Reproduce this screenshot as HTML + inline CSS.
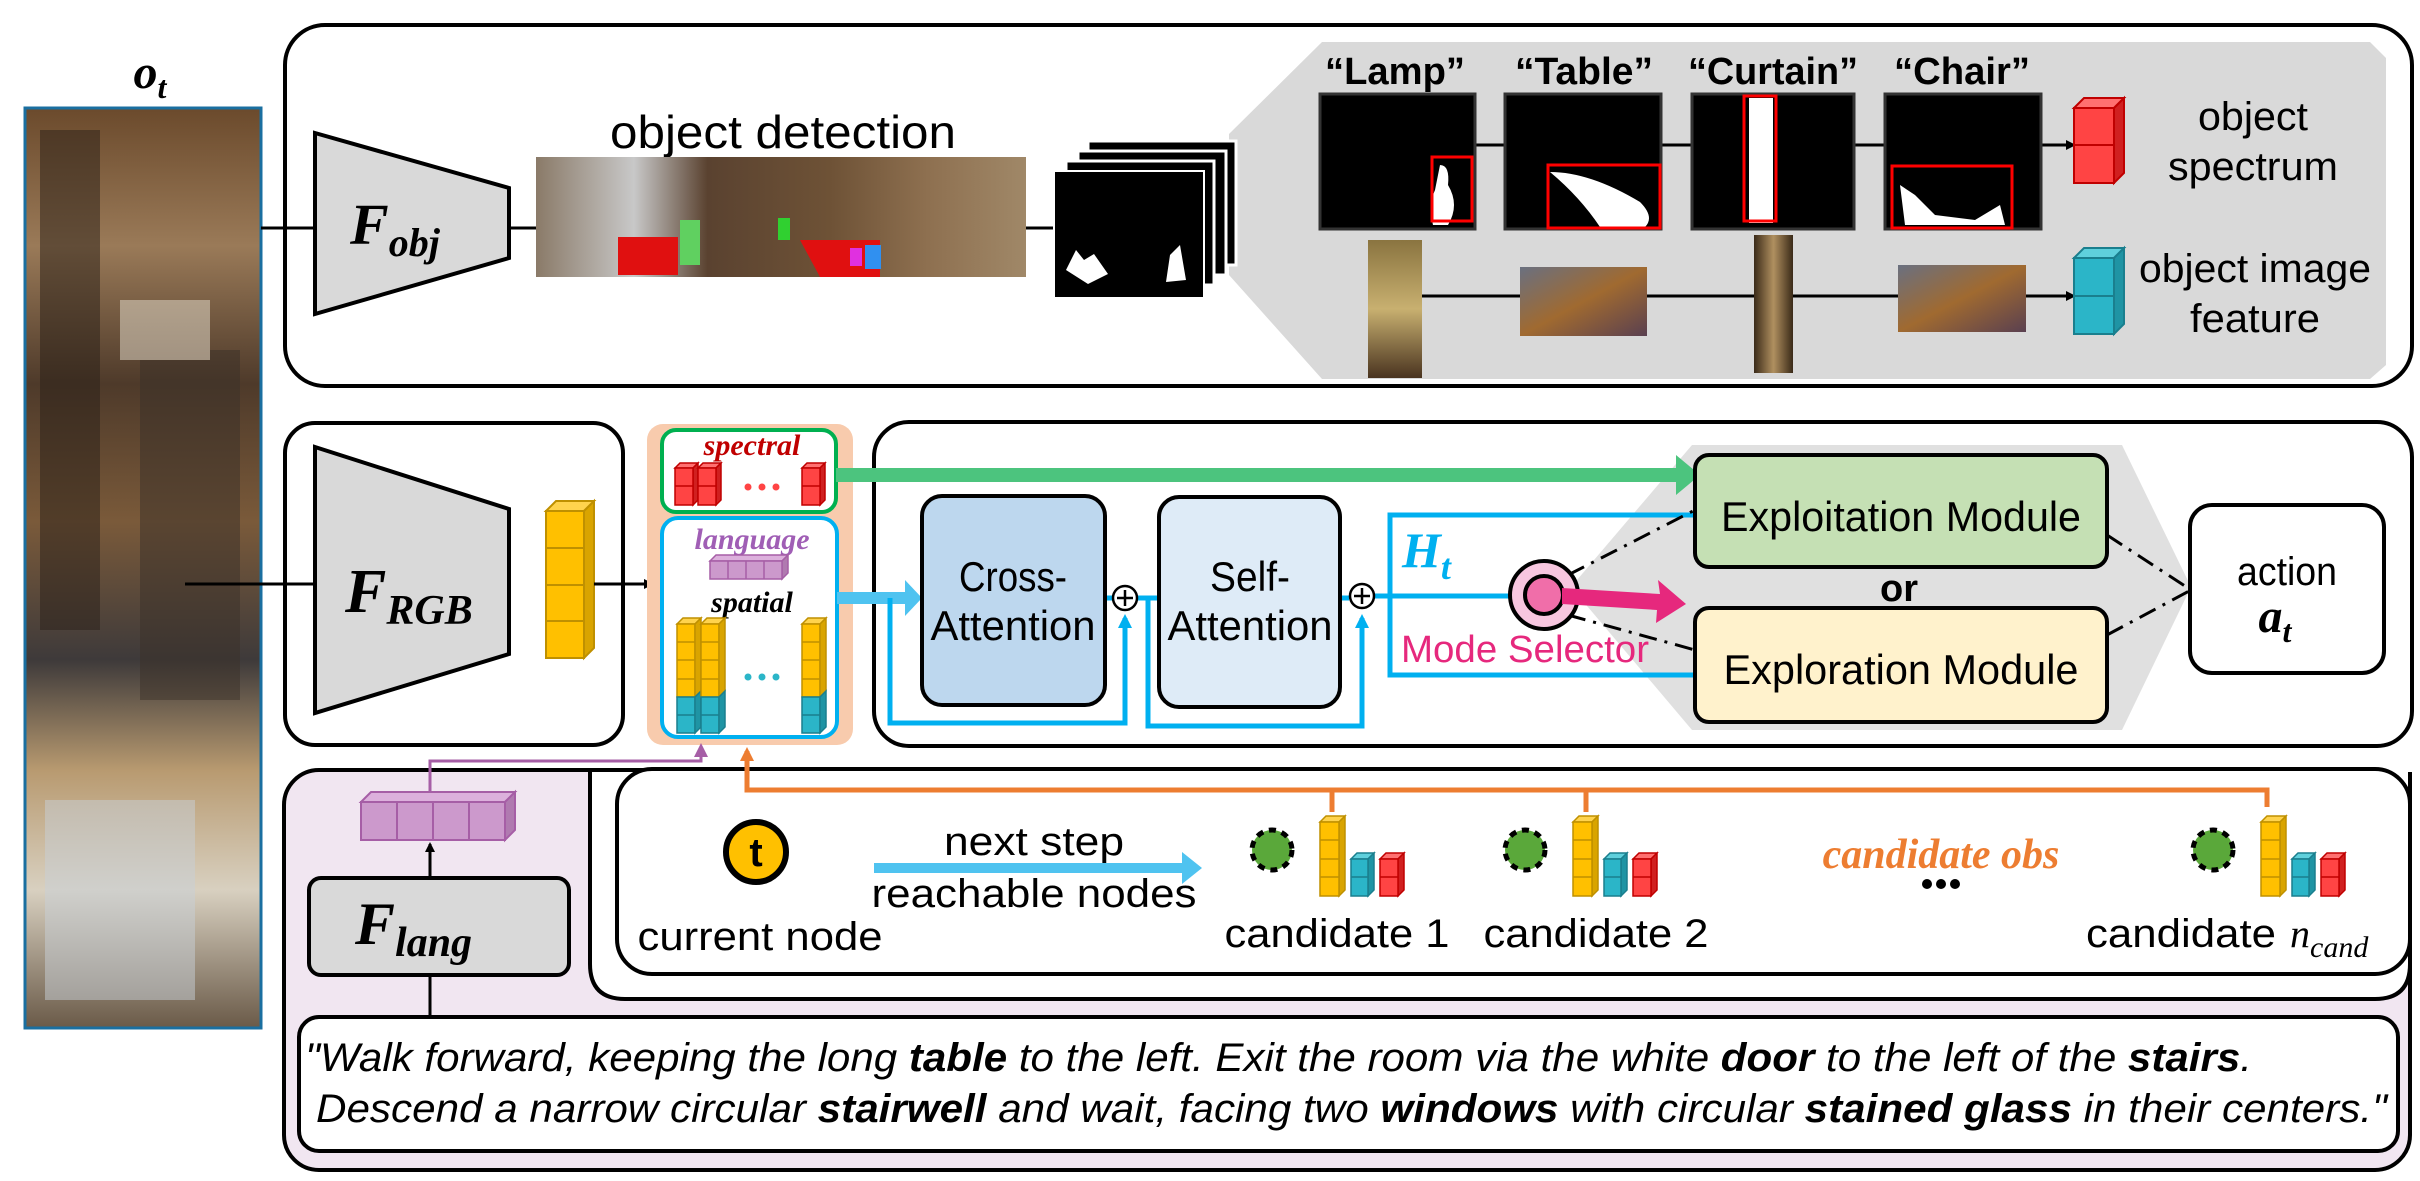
<!DOCTYPE html>
<html><head><meta charset="utf-8"><style>
html,body{margin:0;padding:0;background:#fff;}
svg{display:block;}
text{font-family:"Liberation Sans",sans-serif;}
.serif{font-family:"Liberation Serif",serif;}
</style></head><body>
<svg width="2420" height="1181" viewBox="0 0 2420 1181" xmlns="http://www.w3.org/2000/svg">
<defs>
<linearGradient id="pano" x1="0" y1="0" x2="0" y2="1">
<stop offset="0" stop-color="#6b4a2c"/><stop offset="0.15" stop-color="#9a7a58"/><stop offset="0.3" stop-color="#4e3a2a"/>
<stop offset="0.45" stop-color="#7a5a3a"/><stop offset="0.6" stop-color="#3e3a3a"/><stop offset="0.72" stop-color="#b89a70"/>
<stop offset="0.85" stop-color="#d8d0c0"/><stop offset="1" stop-color="#6a5a48"/></linearGradient>
<linearGradient id="det" x1="0" y1="0" x2="1" y2="0">
<stop offset="0" stop-color="#8a7a68"/><stop offset="0.2" stop-color="#c8c8c8"/><stop offset="0.35" stop-color="#5a4230"/>
<stop offset="0.6" stop-color="#6e5236"/><stop offset="0.8" stop-color="#8e7050"/><stop offset="1" stop-color="#a08868"/></linearGradient>
<linearGradient id="lamp" x1="0" y1="0" x2="0" y2="1"><stop offset="0" stop-color="#8a7440"/><stop offset="0.5" stop-color="#c8b070"/><stop offset="1" stop-color="#4a3420"/></linearGradient>
<linearGradient id="tbl" x1="0" y1="0" x2="1" y2="1"><stop offset="0" stop-color="#6a7080"/><stop offset="0.5" stop-color="#a06a30"/><stop offset="1" stop-color="#5a4050"/></linearGradient>
<linearGradient id="curt" x1="0" y1="0" x2="1" y2="0"><stop offset="0" stop-color="#3a2a18"/><stop offset="0.5" stop-color="#b09060"/><stop offset="1" stop-color="#3a2a18"/></linearGradient>
<marker id="ab" markerWidth="10" markerHeight="10" refX="8" refY="5" orient="auto" markerUnits="userSpaceOnUse"><path d="M0,0 L10,5 L0,10 z" fill="#000"/></marker>
<marker id="ac" markerWidth="14" markerHeight="14" refX="10" refY="7" orient="auto" markerUnits="userSpaceOnUse"><path d="M0,0 L14,7 L0,14 z" fill="#00b0f0"/></marker>
<marker id="ap" markerWidth="14" markerHeight="14" refX="10" refY="7" orient="auto" markerUnits="userSpaceOnUse"><path d="M0,0 L14,7 L0,14 z" fill="#a65ea6"/></marker>
<marker id="ao" markerWidth="14" markerHeight="14" refX="10" refY="7" orient="auto" markerUnits="userSpaceOnUse"><path d="M0,0 L14,7 L0,14 z" fill="#ed7d31"/></marker>
</defs>

<!-- panorama -->
<text x="150" y="88" class="serif" font-size="48" font-weight="bold" font-style="italic" text-anchor="middle">o<tspan font-size="32" dy="10">t</tspan></text>
<rect x="25" y="108" width="236" height="920" fill="url(#pano)" stroke="#1a6fa0" stroke-width="3"/>
<g opacity="0.5">
<rect x="40" y="130" width="60" height="500" fill="#2a2018"/><rect x="140" y="350" width="100" height="350" fill="#3a3028"/>
<rect x="45" y="800" width="150" height="200" fill="#c8d0d8"/><rect x="120" y="300" width="90" height="60" fill="#e8e0d0"/>
</g>

<!-- top box -->
<rect x="285" y="25" width="2127" height="361" rx="40" fill="#fff" stroke="#000" stroke-width="4"/>
<line x1="261" y1="228" x2="316" y2="228" stroke="#000" stroke-width="3"/>
<polygon points="315,133 509,188 509,258 315,314" fill="#d9d9d9" stroke="#000" stroke-width="4"/>
<text x="350" y="244" class="serif" font-size="58" font-weight="bold" font-style="italic">F<tspan font-size="40" dy="12">obj</tspan></text>
<line x1="509" y1="228" x2="536" y2="228" stroke="#000" stroke-width="3"/>
<text x="783" y="148" font-size="46" text-anchor="middle" textLength="346" lengthAdjust="spacingAndGlyphs">object detection</text>
<rect x="536" y="157" width="490" height="120" fill="url(#det)"/>
<rect x="618" y="237" width="60" height="38" fill="#e01010"/><rect x="680" y="220" width="20" height="45" fill="#60d060"/>
<polygon points="800,240 880,240 880,277 820,277" fill="#e01010"/><rect x="778" y="218" width="12" height="22" fill="#30d030"/>
<rect x="850" y="248" width="12" height="18" fill="#e030e0"/><rect x="865" y="245" width="16" height="24" fill="#3090f0"/>
<line x1="1026" y1="228" x2="1055" y2="228" stroke="#000" stroke-width="3"/>
<!-- gray panel -->
<polygon points="1322,42 2370,42 2386,58 2386,365 2370,379 1322,379 1229,275 1229,134" fill="#d9d9d9"/>
<rect x="1088" y="141" width="148" height="124" fill="#000" stroke="#fff" stroke-width="3"/>
<rect x="1078" y="151" width="148" height="124" fill="#000" stroke="#fff" stroke-width="3"/>
<rect x="1066" y="161" width="148" height="124" fill="#000" stroke="#fff" stroke-width="3"/>
<rect x="1054" y="171" width="150" height="127" fill="#000" stroke="#fff" stroke-width="2"/>
<path d="M1066,270 l10,-20 l8,10 l10,-6 l14,20 l-20,10 z M1170,255 l10,-10 l6,35 l-20,2 z" fill="#fff"/>

<g font-size="38" font-weight="bold" text-anchor="middle">
<text x="1395" y="84" textLength="140" lengthAdjust="spacingAndGlyphs">“Lamp”</text>
<text x="1584" y="84" textLength="138" lengthAdjust="spacingAndGlyphs">“Table”</text>
<text x="1773" y="84" textLength="170" lengthAdjust="spacingAndGlyphs">“Curtain”</text>
<text x="1962" y="84" textLength="136" lengthAdjust="spacingAndGlyphs">“Chair”</text>
</g>
<line x1="1475" y1="145" x2="2074" y2="145" stroke="#000" stroke-width="3" marker-end="url(#ab)"/>
<g stroke="#333" stroke-width="3" fill="#000">
<rect x="1320" y="94" width="155" height="135"/><rect x="1505" y="94" width="156" height="135"/>
<rect x="1692" y="94" width="162" height="135"/><rect x="1885" y="94" width="156" height="135"/>
</g>
<path d="M1440,165 q10,0 8,20 q12,20 0,40 h-15 q-5,-20 2,-35 z" fill="#fff"/>
<path d="M1550,172 q40,0 90,30 q15,15 5,25 h-45 q-20,-30 -50,-55 z" fill="#fff"/>
<rect x="1749" y="98" width="24" height="125" fill="#fff"/>
<path d="M1900,185 l15,10 l20,20 l40,5 l25,-15 l5,20 h-100 z" fill="#fff"/>
<g fill="none" stroke="#f00" stroke-width="3">
<rect x="1432" y="157" width="40" height="64"/><rect x="1548" y="165" width="112" height="63"/>
<rect x="1744" y="96" width="32" height="125"/><rect x="1892" y="166" width="120" height="62"/>
</g>
<!-- red stack -->
<g stroke="#c00000" stroke-width="2">
<polygon points="2074,108 2084,98 2124,98 2114,108" fill="#ff7070"/>
<polygon points="2114,108 2124,98 2124,173 2114,183" fill="#d02020"/>
<rect x="2074" y="108" width="40" height="75" fill="#ff4444"/><line x1="2074" y1="145" x2="2114" y2="145"/>
</g>
<text x="2253" y="130" font-size="40" text-anchor="middle" textLength="110" lengthAdjust="spacingAndGlyphs">object</text>
<text x="2253" y="180" font-size="40" text-anchor="middle" textLength="170" lengthAdjust="spacingAndGlyphs">spectrum</text>

<line x1="1422" y1="296" x2="2074" y2="296" stroke="#000" stroke-width="3" marker-end="url(#ab)"/>
<rect x="1368" y="240" width="54" height="138" fill="url(#lamp)"/>
<rect x="1520" y="267" width="127" height="69" fill="url(#tbl)"/>
<rect x="1754" y="235" width="39" height="138" fill="url(#curt)"/>
<rect x="1898" y="265" width="128" height="67" fill="url(#tbl)"/>
<g stroke="#1a7f8e" stroke-width="2">
<polygon points="2074,258 2084,248 2124,248 2114,258" fill="#5fd0dc"/>
<polygon points="2114,258 2124,248 2124,324 2114,334" fill="#1f94a4"/>
<rect x="2074" y="258" width="40" height="76" fill="#2bb5c8"/><line x1="2074" y1="296" x2="2114" y2="296"/>
</g>
<text x="2255" y="282" font-size="40" text-anchor="middle" textLength="232" lengthAdjust="spacingAndGlyphs">object image</text>
<text x="2255" y="332" font-size="40" text-anchor="middle" textLength="130" lengthAdjust="spacingAndGlyphs">feature</text>

<!-- RGB box -->
<rect x="285" y="423" width="338" height="322" rx="30" fill="#fff" stroke="#000" stroke-width="4"/>
<line x1="185" y1="584" x2="316" y2="584" stroke="#000" stroke-width="3"/>
<polygon points="315,447 509,509 509,654 315,713" fill="#d9d9d9" stroke="#000" stroke-width="4"/>
<text x="345" y="612" class="serif" font-size="62" font-weight="bold" font-style="italic">F<tspan font-size="42" dy="12">RGB</tspan></text>
<g stroke="#bf9000" stroke-width="2">
<polygon points="546,511 556,501 594,501 584,511" fill="#ffd34d"/>
<polygon points="584,511 594,501 594,648 584,658" fill="#d9a400"/>
<rect x="546" y="511" width="38" height="147" fill="#ffc000"/>
<line x1="546" y1="548" x2="584" y2="548"/><line x1="546" y1="585" x2="584" y2="585"/><line x1="546" y1="621" x2="584" y2="621"/>
</g>
<line x1="594" y1="584" x2="652" y2="584" stroke="#000" stroke-width="3" marker-end="url(#ab)"/>

<!-- orange panel -->
<rect x="647" y="424" width="206" height="321" rx="16" fill="#f8cbad"/>
<rect x="662" y="430" width="174" height="82" rx="14" fill="#fff" stroke="#00b050" stroke-width="4"/>
<text x="752" y="455" class="serif" font-size="30" font-weight="bold" font-style="italic" fill="#c00000" text-anchor="middle">spectral</text>
<g stroke="#c00000" stroke-width="1.5">
<polygon points="675,468 680,463 698,463 693,468" fill="#ff7070"/><polygon points="693,468 698,463 698,500 693,505" fill="#d02020"/><rect x="675" y="468" width="18" height="37" fill="#ff4444"/><line x1="675" y1="486" x2="693" y2="486"/>
<polygon points="698,468 703,463 721,463 716,468" fill="#ff7070"/><polygon points="716,468 721,463 721,500 716,505" fill="#d02020"/><rect x="698" y="468" width="18" height="37" fill="#ff4444"/><line x1="698" y1="486" x2="716" y2="486"/>
<polygon points="802,468 807,463 825,463 820,468" fill="#ff7070"/><polygon points="820,468 825,463 825,500 820,505" fill="#d02020"/><rect x="802" y="468" width="18" height="37" fill="#ff4444"/><line x1="802" y1="486" x2="820" y2="486"/>
</g>
<g fill="#ff4444"><circle cx="748" cy="487" r="3.5"/><circle cx="762" cy="487" r="3.5"/><circle cx="776" cy="487" r="3.5"/></g>
<rect x="662" y="518" width="175" height="219" rx="16" fill="#fff" stroke="#00b0f0" stroke-width="4"/>
<text x="752" y="549" class="serif" font-size="30" font-weight="bold" font-style="italic" fill="#a05eb5" text-anchor="middle">language</text>
<g stroke="#a65ea6" stroke-width="1.5">
<polygon points="710,561 716,555 788,555 782,561" fill="#dcb0dc"/><polygon points="782,561 788,555 788,573 782,579" fill="#b07ab0"/>
<rect x="710" y="561" width="72" height="18" fill="#cc99cc"/><line x1="728" y1="561" x2="728" y2="579"/><line x1="746" y1="561" x2="746" y2="579"/><line x1="764" y1="561" x2="764" y2="579"/>
</g>
<text x="752" y="612" class="serif" font-size="30" font-weight="bold" font-style="italic" text-anchor="middle">spatial</text>
<g stroke-width="1.5">
<g stroke="#bf9000"><polygon points="677,624 683,618 701,618 695,624" fill="#ffd34d"/><rect x="677" y="624" width="18" height="73" fill="#ffc000"/><polygon points="695,624 701,618 701,691 695,697" fill="#d9a400"/>
<line x1="677" y1="642" x2="695" y2="642"/><line x1="677" y1="660" x2="695" y2="660"/><line x1="677" y1="679" x2="695" y2="679"/></g>
<g stroke="#1a7f8e"><rect x="677" y="697" width="18" height="36" fill="#2bb5c8"/><polygon points="695,697 701,691 701,727 695,733" fill="#1f94a4"/><line x1="677" y1="715" x2="695" y2="715"/></g>
<g stroke="#bf9000"><polygon points="701,624 707,618 725,618 719,624" fill="#ffd34d"/><rect x="701" y="624" width="18" height="73" fill="#ffc000"/><polygon points="719,624 725,618 725,691 719,697" fill="#d9a400"/>
<line x1="701" y1="642" x2="719" y2="642"/><line x1="701" y1="660" x2="719" y2="660"/><line x1="701" y1="679" x2="719" y2="679"/></g>
<g stroke="#1a7f8e"><rect x="701" y="697" width="18" height="36" fill="#2bb5c8"/><polygon points="719,697 725,691 725,727 719,733" fill="#1f94a4"/><line x1="701" y1="715" x2="719" y2="715"/></g>
<g stroke="#bf9000"><polygon points="802,624 808,618 826,618 820,624" fill="#ffd34d"/><rect x="802" y="624" width="18" height="73" fill="#ffc000"/><polygon points="820,624 826,618 826,691 820,697" fill="#d9a400"/>
<line x1="802" y1="642" x2="820" y2="642"/><line x1="802" y1="660" x2="820" y2="660"/><line x1="802" y1="679" x2="820" y2="679"/></g>
<g stroke="#1a7f8e"><rect x="802" y="697" width="18" height="36" fill="#2bb5c8"/><polygon points="820,697 826,691 826,727 820,733" fill="#1f94a4"/><line x1="802" y1="715" x2="820" y2="715"/></g>
</g>
<g fill="#2bb5c8"><circle cx="748" cy="677" r="3.5"/><circle cx="762" cy="677" r="3.5"/><circle cx="776" cy="677" r="3.5"/></g>

<!-- main middle box -->
<rect x="874" y="422" width="1538" height="324" rx="35" fill="#fff" stroke="#000" stroke-width="4"/>
<polygon points="1692,445 2122,445 2191,587 2122,730 1692,730 1571,587" fill="#e0e0e0"/>
<!-- green arrow -->
<rect x="836" y="468" width="842" height="14" fill="#4cc47e"/>
<polygon points="1676,455 1700,475 1676,495" fill="#4cc47e"/>
<!-- cyan big arrow -->
<rect x="837" y="592" width="70" height="12" fill="#4fc3f0"/>
<polygon points="905,580 922,598 905,616" fill="#4fc3f0"/>
<!-- residual cyan lines -->
<polyline points="890,598 890,723 1125,723 1125,618" fill="none" stroke="#00b0f0" stroke-width="5" marker-end="url(#ac)"/>
<polyline points="1148,598 1148,726 1362,726 1362,618" fill="none" stroke="#00b0f0" stroke-width="5" marker-end="url(#ac)"/>
<line x1="1105" y1="598" x2="1112" y2="598" stroke="#00b0f0" stroke-width="5"/>
<line x1="1138" y1="598" x2="1160" y2="598" stroke="#00b0f0" stroke-width="5"/>
<line x1="1340" y1="598" x2="1349" y2="598" stroke="#00b0f0" stroke-width="5"/>
<line x1="1375" y1="596" x2="1512" y2="596" stroke="#00b0f0" stroke-width="5"/>
<polyline points="1695,515 1390,515 1390,675 1695,675" fill="none" stroke="#00b0f0" stroke-width="5"/>
<rect x="922" y="496" width="183" height="209" rx="20" fill="#bdd7ee" stroke="#000" stroke-width="4"/>
<text x="1013" y="591" font-size="42" text-anchor="middle" textLength="108" lengthAdjust="spacingAndGlyphs">Cross-</text>
<text x="1013" y="640" font-size="42" text-anchor="middle" textLength="165" lengthAdjust="spacingAndGlyphs">Attention</text>
<rect x="1159" y="497" width="181" height="210" rx="20" fill="#deebf7" stroke="#000" stroke-width="4"/>
<text x="1250" y="591" font-size="42" text-anchor="middle" textLength="80" lengthAdjust="spacingAndGlyphs">Self-</text>
<text x="1250" y="640" font-size="42" text-anchor="middle" textLength="165" lengthAdjust="spacingAndGlyphs">Attention</text>
<g stroke="#000" stroke-width="2.5" fill="#fff"><circle cx="1125" cy="598" r="12"/><circle cx="1362" cy="596" r="12"/></g>
<g stroke="#000" stroke-width="2.5"><line x1="1117" y1="598" x2="1133" y2="598"/><line x1="1125" y1="590" x2="1125" y2="606"/><line x1="1354" y1="596" x2="1370" y2="596"/><line x1="1362" y1="588" x2="1362" y2="604"/></g>
<text x="1402" y="567" class="serif" font-size="50" font-weight="bold" font-style="italic" fill="#00b0f0">H<tspan font-size="36" dy="12">t</tspan></text>
<!-- dash dot -->
<g stroke="#000" stroke-width="3" stroke-dasharray="18,8,3,8" fill="none">
<line x1="1568" y1="575" x2="1695" y2="510"/><line x1="1568" y1="615" x2="1695" y2="650"/>
<line x1="2107" y1="535" x2="2191" y2="590"/><line x1="2107" y1="635" x2="2191" y2="590"/>
</g>
<rect x="1695" y="455" width="412" height="112" rx="14" fill="#c5e0b4" stroke="#000" stroke-width="4"/>
<text x="1901" y="531" font-size="42" text-anchor="middle" textLength="360" lengthAdjust="spacingAndGlyphs">Exploitation Module</text>
<text x="1899" y="601" font-size="38" font-weight="bold" text-anchor="middle">or</text>
<rect x="1695" y="608" width="412" height="114" rx="14" fill="#fff2cc" stroke="#000" stroke-width="4"/>
<text x="1901" y="684" font-size="42" text-anchor="middle" textLength="355" lengthAdjust="spacingAndGlyphs">Exploration Module</text>
<!-- mode selector -->
<circle cx="1544" cy="595" r="34" fill="#f7c6df" stroke="#000" stroke-width="4"/>
<circle cx="1544" cy="595" r="19" fill="#f06ea9" stroke="#000" stroke-width="4"/>
<polygon points="1562,588 1660,594 1658,580 1686,604 1656,623 1657,610 1562,604" fill="#e6287d"/>
<text x="1525" y="662" font-size="38" fill="#e6287d" text-anchor="middle" textLength="248" lengthAdjust="spacingAndGlyphs">Mode Selector</text>
<rect x="2190" y="505" width="194" height="168" rx="22" fill="#fff" stroke="#000" stroke-width="4"/>
<text x="2287" y="585" font-size="40" text-anchor="middle" textLength="100" lengthAdjust="spacingAndGlyphs">action</text>
<text x="2275" y="632" class="serif" font-size="48" font-weight="bold" font-style="italic" text-anchor="middle">a<tspan font-size="32" dy="10">t</tspan></text>

<!-- bottom lavender -->
<rect x="284" y="770" width="2126" height="400" rx="35" fill="#f1e6f1" stroke="#000" stroke-width="4"/>
<path d="M590,772 V964 Q590,999 625,999 H2375 Q2410,999 2410,964 V772" fill="#fff" stroke="#000" stroke-width="4"/>
<rect x="617" y="769" width="1793" height="205" rx="35" fill="#fff" stroke="#000" stroke-width="4"/>
<rect x="299" y="1017" width="2099" height="134" rx="20" fill="#fff" stroke="#000" stroke-width="4"/>
<g font-size="40" font-style="italic">
<text x="305" y="1071" textLength="1947" lengthAdjust="spacingAndGlyphs">"Walk forward, keeping the long <tspan font-weight="bold">table</tspan> to the left. Exit the room via the white <tspan font-weight="bold">door</tspan> to the left of the <tspan font-weight="bold">stairs</tspan>.</text>
<text x="316" y="1122" textLength="2071" lengthAdjust="spacingAndGlyphs">Descend a narrow circular <tspan font-weight="bold">stairwell</tspan> and wait, facing two <tspan font-weight="bold">windows</tspan> with circular <tspan font-weight="bold">stained glass</tspan> in their centers."</text>
</g>
<!-- F_lang -->
<line x1="430" y1="975" x2="430" y2="1017" stroke="#000" stroke-width="3"/>
<line x1="430" y1="878" x2="430" y2="844" stroke="#000" stroke-width="3" marker-end="url(#ab)"/>
<rect x="309" y="878" width="260" height="97" rx="12" fill="#d9d9d9" stroke="#000" stroke-width="4"/>
<text x="355" y="944" class="serif" font-size="60" font-weight="bold" font-style="italic">F<tspan font-size="42" dy="12">lang</tspan></text>
<polyline points="430,792 430,761 701,761 701,747" fill="none" stroke="#a65ea6" stroke-width="3" marker-end="url(#ap)"/>
<g stroke="#a65ea6" stroke-width="2">
<polygon points="361,802 371,792 515,792 505,802" fill="#dcb0dc"/><polygon points="505,802 515,792 515,830 505,840" fill="#b07ab0"/>
<rect x="361" y="802" width="144" height="38" fill="#cc99cc"/><line x1="397" y1="802" x2="397" y2="840"/><line x1="433" y1="802" x2="433" y2="840"/><line x1="469" y1="802" x2="469" y2="840"/>
</g>
<!-- orange connector -->
<polyline points="2267,807 2267,790 747,790 747,751" fill="none" stroke="#ed7d31" stroke-width="5" marker-end="url(#ao)"/>
<line x1="1332" y1="790" x2="1332" y2="812" stroke="#ed7d31" stroke-width="5"/>
<line x1="1586" y1="790" x2="1586" y2="812" stroke="#ed7d31" stroke-width="5"/>
<!-- current node -->
<circle cx="756" cy="852" r="30" fill="#ffc000" stroke="#000" stroke-width="6"/>
<text x="756" y="866" font-size="40" font-weight="bold" text-anchor="middle">t</text>
<text x="760" y="950" font-size="40" text-anchor="middle" textLength="245" lengthAdjust="spacingAndGlyphs">current node</text>
<text x="1034" y="855" font-size="40" text-anchor="middle" textLength="180" lengthAdjust="spacingAndGlyphs">next step</text>
<rect x="874" y="863" width="310" height="10" fill="#4fc3f0"/><polygon points="1182,852 1202,868 1182,884" fill="#4fc3f0"/>
<text x="1034" y="907" font-size="40" text-anchor="middle" textLength="325" lengthAdjust="spacingAndGlyphs">reachable nodes</text>
<!-- candidates -->
<g id="c1">
<circle cx="1272" cy="850" r="20" fill="#5aa83a" stroke="#000" stroke-width="5" stroke-dasharray="7,6"/>
<g stroke="#bf9000" stroke-width="1.5"><polygon points="1320,822 1326,816 1345,816 1339,822" fill="#ffd34d"/><polygon points="1339,822 1345,816 1345,890 1339,896" fill="#d9a400"/><rect x="1320" y="822" width="19" height="74" fill="#ffc000"/><line x1="1320" y1="840" x2="1339" y2="840"/><line x1="1320" y1="859" x2="1339" y2="859"/><line x1="1320" y1="877" x2="1339" y2="877"/></g>
<g stroke="#1a7f8e" stroke-width="1.5"><polygon points="1351,859 1357,853 1374,853 1368,859" fill="#5fd0dc"/><polygon points="1368,859 1374,853 1374,890 1368,896" fill="#1f94a4"/><rect x="1351" y="859" width="17" height="37" fill="#2bb5c8"/><line x1="1351" y1="877" x2="1368" y2="877"/></g>
<g stroke="#c00000" stroke-width="1.5"><polygon points="1380,859 1386,853 1404,853 1398,859" fill="#ff7070"/><polygon points="1398,859 1404,853 1404,890 1398,896" fill="#d02020"/><rect x="1380" y="859" width="18" height="37" fill="#ff4444"/><line x1="1380" y1="877" x2="1398" y2="877"/></g>
</g>
<use href="#c1" x="253"/>
<use href="#c1" x="941"/>
<text x="1337" y="947" font-size="40" text-anchor="middle" textLength="225" lengthAdjust="spacingAndGlyphs">candidate 1</text>
<text x="1596" y="947" font-size="40" text-anchor="middle" textLength="225" lengthAdjust="spacingAndGlyphs">candidate 2</text>
<text x="2086" y="947" font-size="40" textLength="190" lengthAdjust="spacingAndGlyphs">candidate</text>
<text x="2290" y="947" class="serif" font-size="40" font-style="italic">n<tspan font-size="30" dy="10">cand</tspan></text>
<text x="1941" y="868" class="serif" font-size="42" font-weight="bold" font-style="italic" fill="#ed7d31" text-anchor="middle">candidate obs</text>
<g fill="#000"><circle cx="1927" cy="884" r="5"/><circle cx="1941" cy="884" r="5"/><circle cx="1955" cy="884" r="5"/></g>
</svg>
</body></html>
